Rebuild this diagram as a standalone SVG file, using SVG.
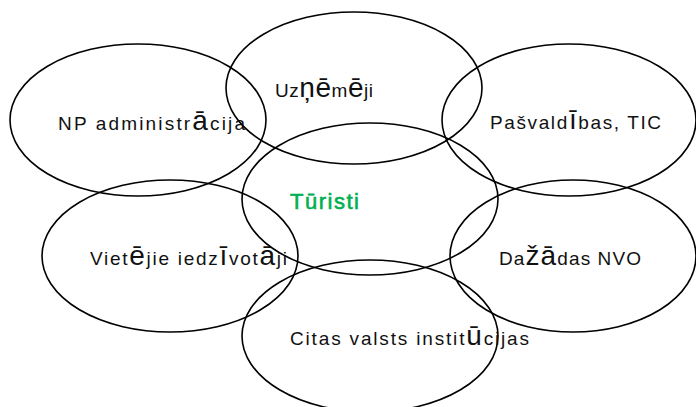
<svg xmlns="http://www.w3.org/2000/svg" width="696" height="407" viewBox="0 0 696 407">
<style>
.e{fill:none;stroke:#000;stroke-width:1.6}
.t{font-family:"Liberation Sans",Arial,sans-serif;font-size:19px;fill:#111}
.b{font-size:28px}
.g{font-family:"Liberation Sans",Arial,sans-serif;font-size:22px;fill:#00b050;stroke:#00b050;stroke-width:0.6;letter-spacing:-1px}
</style>
<rect width="696" height="407" fill="#fff"/>
<g id="np"><ellipse class="e" cx="138" cy="120" rx="128" ry="76"/><text class="t" x="58" y="130" textLength="187">NP administr<tspan class="b">ā</tspan>cija</text></g>
<g id="uzn"><ellipse class="e" cx="354" cy="88" rx="128" ry="76"/><text class="t" x="275" y="97" textLength="98">Uz<tspan class="b">ņē</tspan>m<tspan class="b">ē</tspan>ji</text></g>
<g id="pasv"><ellipse class="e" cx="569" cy="120" rx="127" ry="76"/><text class="t" x="490" y="129" textLength="171">Pašvald<tspan class="b">ī</tspan>bas, TIC</text></g>
<g id="viet"><ellipse class="e" cx="170" cy="256" rx="128" ry="76"/><text class="t" x="90" y="265" textLength="197">Viet<tspan class="b">ē</tspan>jie iedz<tspan class="b">ī</tspan>vot<tspan class="b">ā</tspan>ji</text></g>
<g id="daz"><ellipse class="e" cx="573" cy="256" rx="123" ry="76"/><text class="t" x="499" y="265" textLength="142">Da<tspan class="b">žā</tspan>das NVO</text></g>
<g id="citas"><ellipse class="e" cx="370" cy="336" rx="128" ry="76"/><text class="t" x="290" y="345" textLength="239">Citas valsts instit<tspan class="b">ū</tspan>cijas</text></g>
<g id="tur"><ellipse class="e" cx="370" cy="199" rx="128" ry="76"/><text class="g" x="290" y="209" textLength="68">Tūristi</text></g>
<g id="connectors"/>
</svg>
